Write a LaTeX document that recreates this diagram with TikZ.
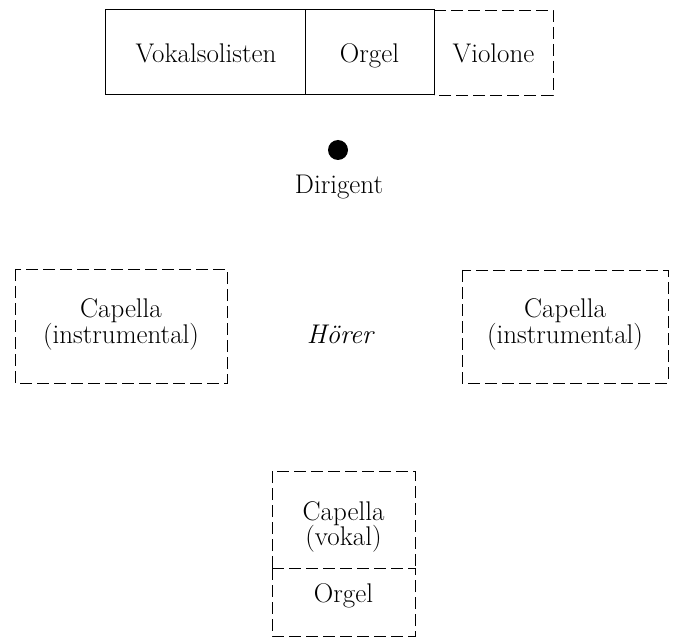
\documentclass[tikz,border=0pt]{standalone}
\begin{document}
\begin{tikzpicture}[x=1pt,y=-1pt,
  lbl/.style={inner sep=0pt,anchor=base,font=\fontsize{27}{30}\selectfont},
  solidbox/.style={draw,line width=1pt},
  dbox/.style={draw,line width=0.85pt,dash pattern=on 12pt off 5pt}]
\useasboundingbox (0,0) rectangle (675,639);
% top row
\coordinate (tl) at (105,10);
\node[lbl] (voc) at (206,63) {Vokalsolisten};
\node[lbl] (org) at (369.5,63) {Orgel};
\node[lbl] (vio) at (493.5,63) {Violone};
\coordinate (d1t) at (305,10); \coordinate (d1b) at (305,95);
\coordinate (d2t) at (434,10); \coordinate (d2b) at (434,95);
\coordinate (brt) at (553,10); \coordinate (brb) at (553,95);
\coordinate (blb) at (105,95);
\draw[solidbox] (d2t) -- (tl) -- (blb) -- (d2b) -- cycle;
\draw[solidbox] (d1t) -- (d1b);
\draw[dbox] (d2t) -- (brt) -- (brb) -- (d2b);
% conductor
\node[circle,fill,inner sep=0pt,minimum size=20pt] (dot) at (338,150) {};
\node[lbl] (dir) at (339,194) {Dirigent};
% side capellas
\node[lbl] (capl1) at (121,317) {Capella};
\node[lbl] (capl2) at (121,343) {(instrumental)};
\draw[dbox] (15,269) rectangle (227,383);
\node[lbl] (capr1) at (565,317) {Capella};
\node[lbl] (capr2) at (565,343) {(instrumental)};
\draw[dbox] (462,270) rectangle (668,383);
\node[lbl,font=\fontsize{27}{30}\selectfont\itshape] (hor) at (340,343) {Hörer};
% bottom
\node[lbl] (capv1) at (343.5,520) {Capella};
\node[lbl] (capv2) at (343.5,545) {(vokal)};
\node[lbl] (org2) at (343.5,602) {Orgel};
\draw[dbox] (272,568) -- (272,471) -- (415,471) -- (415,568);
\draw[dbox] (272,568) -- (415,568);
\draw[dbox] (272,568) -- (272,636) -- (415,636) -- (415,568);
\end{tikzpicture}
\end{document}
